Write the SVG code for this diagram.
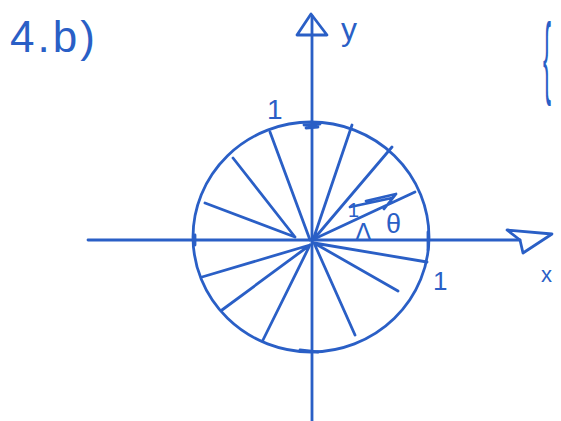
<svg xmlns="http://www.w3.org/2000/svg" width="561" height="421" viewBox="0 0 561 421">
<style>
.s{fill:none;stroke:#2a5fc6;stroke-width:2.8;stroke-linecap:round;stroke-linejoin:round}
.t{fill:#2a5fc6;font-family:"Liberation Sans",Arial,sans-serif}
</style>
<rect width="561" height="421" fill="#ffffff"/>
<text class="t" x="10" y="52" font-size="44" letter-spacing="3">4.b)</text>
<g id="axes">
<line class="s" x1="312" y1="16" x2="312" y2="421"/>
<polygon class="s" points="297,35 311,14 327,35"/>
<line class="s" x1="88" y1="240" x2="520" y2="240"/>
<polygon class="s" points="507,230 552,234 523,253 520,240"/>
<text class="t" x="341" y="40" font-size="32">y</text>
<text class="t" x="541" y="282" font-size="22">x</text>
</g>
<g id="circle">
<ellipse class="s" cx="311" cy="237" rx="118" ry="115"/>
<path class="s" d="M304,125 L320,124 M306,128 L318,127 M300,350 L318,352 M195,235 L195,245 M428,232 L428,250" stroke-width="3.4"/>
<text class="t" x="267" y="119" font-size="28">1</text>
<text class="t" x="433" y="290" font-size="26">1</text>
</g>
<g id="spokes">
<path class="s" d="M352,125 L313,240 M392,147 L313,240 M270,132 L310,240 M233,158 L295,237 M205,203 L295,237 M202,277 L310,245 M222,310 L310,245 M263,340 L310,245 M427,262 L314,243 M398,291 L314,243 M355,335 L314,243"/>
</g>
<g id="vector">
<path class="s" d="M312,240 L415,192 M366,201 L396,194 L384,209 M350,207 L392,198"/>
<text class="t" x="348" y="217" font-size="20">1</text>
<text class="t" x="355" y="241" font-size="25">Δ</text>
<text class="t" x="386" y="233" font-size="27">θ</text>
</g>
<text class="t" x="0" y="0" font-size="30" transform="translate(543,87) scale(0.8,3)">{</text>
</svg>
